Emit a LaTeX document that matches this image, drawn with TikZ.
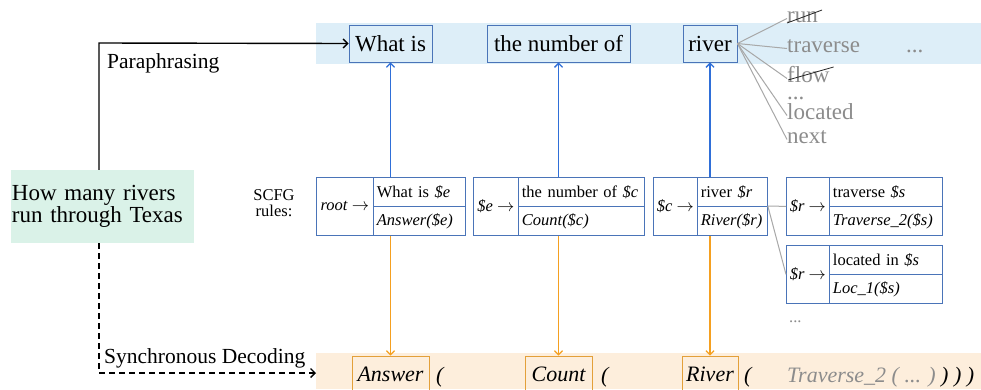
\documentclass[tikz,border=0pt]{standalone}
\usepackage{fontspec}
\setmainfont{Liberation Serif}
\usetikzlibrary{arrows.meta,calc}
\definecolor{bandblue}{HTML}{DDEEF8}
\definecolor{bandorange}{HTML}{FDEEDC}
\definecolor{qgreen}{HTML}{DAF2E8}
\definecolor{boxblue}{HTML}{4A74B8}
\definecolor{arrowblue}{HTML}{2F6FD8}
\definecolor{arroworange}{HTML}{F5A020}
\definecolor{boxorange}{HTML}{E3A03A}
\definecolor{graytext}{HTML}{8C8C8C}
\definecolor{grayline}{HTML}{A8A8A8}
\newcommand{\bigf}{\fontsize{23}{22}\selectfont}
\newcommand{\labf}{\fontsize{21.5}{24}\selectfont}
\newcommand{\rulef}{\fontsize{16.5}{20}\selectfont}
\newcommand{\scfgf}{\fontsize{16.5}{16}\selectfont}
\newcommand{\botf}{\fontsize{22}{24}\selectfont\itshape}
\newcommand{\ra}{\(\rightarrow\)}
\begin{document}
\begin{tikzpicture}[x=1pt,y=-1pt,
  tbox/.style={draw=boxblue,line width=0.8pt,inner sep=0pt,minimum height=37pt,font=\bigf},
  lcell/.style={draw=boxblue,line width=0.8pt,inner sep=0pt,minimum height=58pt,anchor=north west,font=\rulef},
  rcell/.style={draw=boxblue,line width=0.8pt,inner xsep=3.5pt,inner ysep=0pt,minimum height=29pt,anchor=north west,align=left,font=\rulef},
  obox/.style={draw=boxorange,line width=0.8pt,inner sep=0pt,minimum height=36pt,font=\botf},
  word/.style={anchor=base west,inner sep=0pt,text height=0.7em,text depth=0pt,text=graytext,font=\bigf},
  dword/.style={anchor=base west,inner sep=0pt,text height=0.15em,text depth=0pt,text=graytext,font=\bigf},
  gline/.style={draw=grayline,line width=1pt},
  strike/.style={draw=black!85,line width=0.8pt},
  barrow/.style={draw=arrowblue,line width=1.3pt,-{Straight Barb[length=4pt,width=8pt]}},
  oarrow/.style={draw=arroworange,line width=1.3pt,-{Straight Barb[length=4pt,width=8pt]}},
  karrow/.style={draw=black,line width=1.4pt,-{Straight Barb[length=4.5pt,width=9pt]}},
  ptext/.style={anchor=base west,inner sep=0pt,font=\botf}
]
\useasboundingbox (0,0) rectangle (981,389);
\clip (0,0) rectangle (981,389);
\fill[white] (0,0) rectangle (981,389);
% bands
\fill[bandblue] (316,23) rectangle (981,64);
\fill[bandorange] (316,353) rectangle (981,389);
% question
\node[fill=qgreen,minimum width=183pt,minimum height=73pt,inner xsep=1pt,inner ysep=0pt,text width=181pt,align=left,font=\bigf] (q) at (102.5,206.5) {How many rivers\\run through Texas};
% top paraphrase boxes
\node[tbox,minimum width=83pt] (what) at (390.5,43.5) {What is};
\node[tbox,minimum width=143pt] (num) at (558.5,43.5) {the number of};
\node[tbox,minimum width=54pt] (riv) at (710,43.5) {river};
% gray alternatives
\node[word] (run) at (787,22) {run};
\node[word] (trav) at (787,52) {traverse};
\node[word] (flow) at (787,82) {flow};
\node[dword] (dots1) at (787,99) {...};
\node[word] (loc) at (787,119) {located};
\node[word] (next) at (787,143) {next};
\node[dword] (dots2) at (906,52) {...};
\foreach \w in {run,trav,flow,loc,next} \draw[gline] (riv.east) -- (\w.west);
\draw[strike] ($(run.base west)+(0,1)$) -- ($(run.base east)+(4,-12)$);
\draw[strike] ($(flow.base west)+(1,-2)$) -- ($(flow.base east)+(4,-15)$);
% SCFG label
\node[align=center,font=\scfgf,inner sep=0pt] (scfg) at (274,203) {SCFG\\rules:};
% rule 1
\node[lcell,minimum width=57pt] (r1l) at (316,177) {\textit{root} \ra};
\node[rcell,text width=85pt] (r1t) at (373,177) {What is \textit{\$e}};
\node[rcell,text width=85pt] (r1b) at (373,206) {\textit{Answer(\$e)}};
% rule 2
\node[lcell,minimum width=45pt] (r2l) at (473,177) {\textit{\$e} \ra};
\node[rcell,text width=119pt] (r2t) at (518,177) {the number of \textit{\$c}};
\node[rcell,text width=119pt] (r2b) at (518,206) {\textit{Count(\$c)}};
% rule 3
\node[lcell,minimum width=44pt] (r3l) at (653,177) {\textit{\$c} \ra};
\node[rcell,text width=63pt] (r3t) at (697,177) {river \textit{\$r}};
\node[rcell,text width=63pt] (r3b) at (697,206) {\textit{River(\$r)}};
% rule 4
\node[lcell,minimum width=43pt] (r4l) at (786,177) {\textit{\$r} \ra};
\node[rcell,text width=106pt] (r4t) at (829,177) {traverse \textit{\$s}};
\node[rcell,text width=106pt] (r4b) at (829,206) {\textit{Traverse\_2(\$s)}};
% rule 5
\node[lcell,minimum width=43pt] (r5l) at (786,245) {\textit{\$r} \ra};
\node[rcell,text width=106pt] (r5t) at (829,245) {located in \textit{\$s}};
\node[rcell,text width=106pt] (r5b) at (829,274) {\textit{Loc\_1(\$s)}};
\node[anchor=base west,inner sep=0pt,text=graytext,font=\rulef] (dots3) at (789,322) {...};
\draw[gline] (r3b.north east) -- (r4l.west);
\draw[gline] (r3b.north east) -- (r5l.west);
% bottom logical form
\node[obox,minimum width=77pt] (ans) at (390.5,374) {Answer};
\node[obox,minimum width=67pt] (cnt) at (558.5,374) {Count};
\node[obox,minimum width=56pt] (rv) at (710,374) {River};
\node[ptext] (p1) at (436,382) {(};
\node[ptext] (p2) at (601,382) {(};
\node[ptext] (p3) at (744,382) {(};
\node[ptext,text=graytext] (tr) at (787,382) {Traverse\_2 ( ... )};
\node[ptext] (cl) at (941,382) {) ) )};
% blue and orange arrows
\draw[barrow] (what.south |- r1l.north) -- (what.south);
\draw[barrow] (num.south |- r2l.north) -- (num.south);
\draw[barrow] (riv.south |- r3l.north) -- (riv.south);
\draw[oarrow] (ans.north |- r1l.south) -- (ans.north);
\draw[oarrow] (cnt.north |- r2l.south) -- (cnt.north);
\draw[oarrow] (rv.north |- r3l.south) -- (rv.north);
% paraphrasing and decoding
\coordinate (pp) at (99,43);
\coordinate (sd) at (99,373);
\coordinate (sde) at (316,373);
\draw[karrow] (q.north -| pp) -- (pp) -- (what.west);
\draw[karrow,dashed,dash pattern=on 6pt off 4pt] (q.south -| sd) -- (sd) -- (sde);
\node[anchor=base west,inner sep=0pt,font=\labf] (lp) at (107,68) {Paraphrasing};
\node[anchor=base west,inner sep=0pt,font=\labf] (ls) at (104,363) {Synchronous Decoding};
\end{tikzpicture}
\end{document}
